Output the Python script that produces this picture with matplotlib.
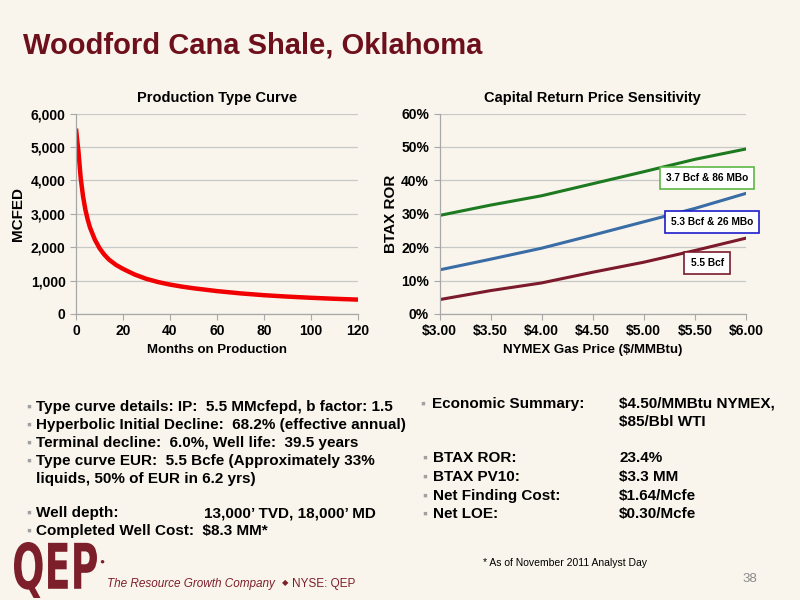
import matplotlib
matplotlib.use("Agg")
import matplotlib.pyplot as plt
from matplotlib.ticker import FuncFormatter, MultipleLocator
from matplotlib.textpath import TextPath
from matplotlib.patches import PathPatch
from matplotlib.font_manager import FontProperties
from matplotlib.transforms import Affine2D

plt.rcParams["font.family"] = ["Liberation Sans", "DejaVu Sans"]

BG = "#f9f5ec"
MAROON = "#6e0f1c"
LOGO = "#7d1f2b"
GRID = "#c8c8c8"

# production type curve
months = [0, 0.5, 1, 2, 3, 4, 5, 6, 8, 10, 12, 14, 17, 20, 25, 30, 35, 40, 45, 50, 60,
          70, 80, 90, 100, 110, 120]
mcfed = [5550, 5200, 4900, 4070, 3520, 3120, 2820, 2580, 2230, 1970, 1780, 1630, 1470,
         1350, 1180, 1050, 955, 880, 820, 770, 685, 617, 562, 520, 485, 455, 430]

# price sensitivity
gas_price = [3.0, 3.5, 4.0, 4.5, 5.0, 5.5, 6.0]
ror_37bcf = [29.5, 32.6, 35.4, 39.0, 42.6, 46.3, 49.4]
ror_53bcf = [13.2, 16.4, 19.7, 23.6, 27.6, 31.6, 36.1]
ror_55bcf = [4.3, 7.0, 9.3, 12.5, 15.5, 19.0, 22.7]
series_labels = ["3.7 Bcf & 86 MBo", "5.3 Bcf & 26 MBo", "5.5 Bcf"]

left_bullets = [
    "Type curve details: IP:  5.5 MMcfepd, b factor: 1.5",
    "Hyperbolic Initial Decline:  68.2% (effective annual)",
    "Terminal decline:  6.0%, Well life:  39.5 years",
    "Type curve EUR:  5.5 Bcfe (Approximately 33%",
]
right_keys = ["BTAX ROR:", "BTAX PV10:", "Net Finding Cost:", "Net LOE:"]
right_vals = ["23.4%", "$3.3 MM", "$1.64/Mcfe", "$0.30/Mcfe"]


def px(x, y):
    return x / 800, 1 - y / 600


def style_axes(ax):
    ax.set_facecolor(BG)
    for s in ("top", "right"):
        ax.spines[s].set_visible(False)
    for s in ("left", "bottom"):
        ax.spines[s].set_color("#a8a8a8")
        ax.spines[s].set_linewidth(0.9)
    ax.grid(axis="y", color=GRID, linewidth=0.9)
    ax.set_axisbelow(True)
    ax.tick_params(colors="#a8a8a8", labelcolor="black", length=4, width=0.8,
                   labelsize=10)
    for lab in ax.get_xticklabels() + ax.get_yticklabels():
        lab.set_fontweight("bold")


fig = plt.figure(figsize=(8, 6), dpi=100, facecolor=BG)

fig.text(*px(23, 46), "Woodford Cana Shale, Oklahoma", fontsize=21, fontweight="bold",
         color=MAROON, va="center", ha="left")

# left chart
ax1 = fig.add_axes([0.095, 0.4767, 0.3525, 0.334])
ax1.plot(months, mcfed, color="#f00000", linewidth=3.2, solid_capstyle="butt")
ax1.set_xlim(0, 120)
ax1.set_ylim(0, 6000)
ax1.xaxis.set_major_locator(MultipleLocator(20))
ax1.yaxis.set_major_locator(MultipleLocator(1000))
ax1.yaxis.set_major_formatter(FuncFormatter(lambda v, p: f"{v:,.0f}"))
style_axes(ax1)
ax1.set_title("Production Type Curve", fontsize=10.5, fontweight="bold", pad=8)
ax1.set_xlabel("Months on Production", fontsize=9.5, fontweight="bold", labelpad=4)
ax1.set_ylabel("MCFED", fontsize=11, fontweight="bold", labelpad=4)

# right chart
ax2 = fig.add_axes([0.5494, 0.4767, 0.383, 0.334])
colors = ["#1d7a20", "#3a6da6", "#7c1a2c"]
edges = ["#5cb845", "#1c1ccc", "#7c1a2c"]
label_pos = [(5.62, 40.8), (5.667, 27.5), (5.62, 15.2)]
for vals, c, ec, lab, (lx, ly) in zip([ror_37bcf, ror_53bcf, ror_55bcf], colors, edges,
                                     series_labels, label_pos):
    ax2.plot(gas_price, [v / 100 for v in vals], color=c, linewidth=2.2)
    ax2.text(lx, ly / 100, lab, fontsize=7.3, fontweight="bold", ha="center", va="center",
             clip_on=False, zorder=5,
             bbox=dict(boxstyle="square,pad=0.6", facecolor="white", edgecolor=ec,
                       linewidth=1.2))
ax2.set_xlim(3, 6)
ax2.set_ylim(0, 0.6)
ax2.xaxis.set_major_locator(MultipleLocator(0.5))
ax2.yaxis.set_major_locator(MultipleLocator(0.1))
ax2.xaxis.set_major_formatter(FuncFormatter(lambda v, p: f"${v:.2f}"))
ax2.yaxis.set_major_formatter(FuncFormatter(lambda v, p: f"{v * 100:.0f}%"))
style_axes(ax2)
ax2.set_title("Capital Return Price Sensitivity", fontsize=10.5, fontweight="bold", pad=8)
ax2.set_xlabel("NYMEX Gas Price ($/MMBtu)", fontsize=9.5, fontweight="bold", labelpad=4)
ax2.set_ylabel("BTAX ROR", fontsize=11, fontweight="bold", labelpad=2)

# bullet text, left
bullet_kw = dict(fontsize=10, color="#a0a0a0", va="center", ha="left")
txt_kw = dict(fontsize=11, fontweight="bold", va="center", ha="left")
ys = [407, 425, 443, 461]
for y, t in zip(ys, left_bullets):
    fig.text(*px(26, y), "\u25aa", **bullet_kw)
    fig.text(*px(36, y), t, **txt_kw)
fig.text(*px(36, 479), "liquids, 50% of EUR in 6.2 yrs)", **txt_kw)
fig.text(*px(26, 513), "\u25aa", **bullet_kw)
fig.text(*px(36, 513), "Well depth:", **txt_kw)
fig.text(*px(204, 513), "13,000\u2019 TVD, 18,000\u2019 MD", **txt_kw)
fig.text(*px(26, 531), "\u25aa", **bullet_kw)
fig.text(*px(36, 531), "Completed Well Cost:  $8.3 MM*", **txt_kw)

# bullet text, right
fig.text(*px(420, 404), "\u25aa", **bullet_kw)
fig.text(*px(432, 404), "Economic Summary:", **txt_kw)
fig.text(*px(619, 404), "$4.50/MMBtu NYMEX,", **txt_kw)
fig.text(*px(619, 422), "$85/Bbl WTI", **txt_kw)
for y, k, v in zip([458, 477, 496, 514], right_keys, right_vals):
    fig.text(*px(422, y), "\u25aa", **bullet_kw)
    fig.text(*px(433, y), k, **txt_kw)
    fig.text(*px(619, y), v, **txt_kw)

fig.text(*px(483, 563), "* As of November 2011 Analyst Day", fontsize=7.5, va="center")
fig.text(*px(757, 579), "38", fontsize=9.5, color="#8a8a8a", va="center", ha="right")

# logo
tp = TextPath((0, 0), "QEP", size=1, prop=FontProperties(family="DejaVu Sans",
                                                         weight="bold"))
bb = tp.get_extents()
x0, y0 = px(14, 598)
x1, y1 = px(97, 542)
sx = (x1 - x0) / bb.width
sy = (y1 - y0) / bb.height
tr = Affine2D().translate(-bb.x0, -bb.y0).scale(sx, sy).translate(x0, y0)
fig.add_artist(PathPatch(tr.transform_path(tp), facecolor=LOGO, edgecolor="none",
                         transform=fig.transFigure))
fig.text(*px(99, 562), "\u25cf", fontsize=6, color=LOGO, va="center")
fig.text(*px(107, 584), "The Resource Growth Company", fontsize=8.5, style="italic",
         color=LOGO, va="center")
fig.text(*px(282, 584), "\u25c6", fontsize=6, color=LOGO, va="center")
fig.text(*px(292, 584), "NYSE: QEP", fontsize=8.5, color=LOGO, va="center")

fig.savefig("out.png", dpi=100, facecolor=BG)
